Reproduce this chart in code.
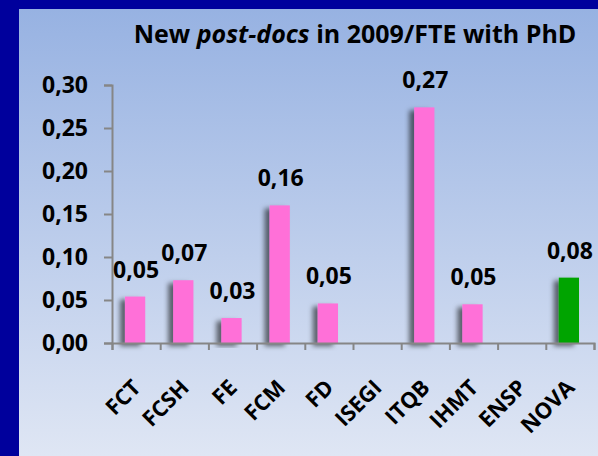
<!DOCTYPE html>
<html>
<head>
<meta charset="utf-8">
<script src="https://cdn.jsdelivr.net/npm/d3@7"></script>
<style>
  body { margin: 0; }
  svg { display: block; font-family: "Open Sans", sans-serif; font-weight: bold; }
</style>
</head>
<body>
<div id="chart"></div>
<script>
// Data
const units = ["FCT", "FCSH", "FE", "FCM", "FD", "ISEGI", "ITQB", "IHMT", "ENSP", "NOVA"];
const postdocs = [0.054, 0.073, 0.029, 0.160, 0.046, 0, 0.274, 0.045, 0, 0.076];
const valueLabels = ["0,05", "0,07", "0,03", "0,16", "0,05", "", "0,27", "0,05", "", "0,08"];
const yTicks = [0, 0.05, 0.10, 0.15, 0.20, 0.25, 0.30];

const data = units.map((u, i) => ({ unit: u, value: postdocs[i], label: valueLabels[i] }));

const width = 598,
  height = 456;
const margin = { top: 85, right: 4, bottom: 113, left: 112 };

const svg = d3
  .select("#chart")
  .append("svg")
  .attr("width", width)
  .attr("height", height);

/* background: dark blue frame + gradient panel */
const defs = svg.append("defs");
const grad = defs
  .append("linearGradient")
  .attr("id", "bg")
  .attr("x1", 0).attr("y1", 0).attr("x2", 0).attr("y2", 1);
grad.append("stop").attr("offset", "0%").attr("stop-color", "#97b2e2");
grad.append("stop").attr("offset", "100%").attr("stop-color", "#dfe6f4");

const shadow = defs.append("filter").attr("id", "shadow")
  .attr("x", "-50%").attr("y", "-20%").attr("width", "200%").attr("height", "140%");
shadow.append("feDropShadow")
  .attr("dx", -5).attr("dy", 3).attr("stdDeviation", 2.5)
  .attr("flood-color", "#000").attr("flood-opacity", 0.55);

svg.append("rect").attr("width", width).attr("height", height).attr("fill", "#00009c");
svg.append("rect")
  .attr("x", 19).attr("y", 9)
  .attr("width", width - 19).attr("height", height - 9)
  .attr("fill", "url(#bg)");

/* scales */
const x = d3
  .scaleBand()
  .domain(units)
  .range([margin.left, width - margin.right])
  .paddingInner(0.58)
  .paddingOuter(0.29);

const xEdges = d3
  .scaleLinear()
  .domain([0, units.length])
  .range([margin.left, width - margin.right]);

const y = d3
  .scaleLinear()
  .domain([0, 0.30])
  .range([height - margin.bottom, margin.top]);

const color = (d) => (d.unit === "NOVA" ? "#00a400" : "#ff6fd8");

/* bars */
svg
  .append("g")
  .selectAll("rect")
  .data(data.filter((d) => d.value > 0))
  .join("rect")
  .attr("x", (d) => x(d.unit) - 1)
  .attr("y", (d) => y(d.value))
  .attr("width", x.bandwidth())
  .attr("height", (d) => y(0) - y(d.value))
  .attr("fill", color)
  .attr("filter", "url(#shadow)");

/* axes */
const yAxis = d3
  .axisLeft(y)
  .tickValues(yTicks)
  .tickSize(8)
  .tickPadding(16)
  .tickFormat((d) => d3.format(".2f")(d).replace(".", ","));

const yG = svg.append("g").attr("transform", `translate(${margin.left},0)`).call(yAxis);

const xAxis = d3
  .axisBottom(xEdges)
  .tickValues(d3.range(units.length + 1))
  .tickSize(7)
  .tickFormat("");

const xG = svg
  .append("g")
  .attr("transform", `translate(0,${height - margin.bottom})`)
  .call(xAxis);

[yG, xG].forEach((g) => {
  g.select(".domain").attr("stroke", "#868686").attr("stroke-width", 2);
  g.selectAll(".tick line").attr("stroke", "#868686").attr("stroke-width", 2);
});
yG.selectAll("text")
  .attr("fill", "#000")
  .style("font-family", "'Open Sans', sans-serif")
  .style("font-size", "23px")
  .style("font-weight", "bold");

/* category labels, rotated */
svg
  .append("g")
  .selectAll("text")
  .data(units)
  .join("text")
  .attr("transform", (d) => `translate(${x(d) + x.bandwidth() / 2 + 6},${height - margin.bottom + 46}) rotate(-45)`)
  .attr("text-anchor", "end")
  .style("font-size", "22px")
  .text((d) => d);

/* value labels */
svg
  .append("g")
  .selectAll("text")
  .data(data.filter((d) => d.label))
  .join("text")
  .attr("x", (d) => x(d.unit) + x.bandwidth() / 2)
  .attr("y", (d) => y(d.value) - 19)
  .attr("text-anchor", "middle")
  .style("font-size", "23px")
  .text((d) => d.label);

/* title */
const title = svg
  .append("text")
  .attr("x", 355)
  .attr("y", 43)
  .attr("text-anchor", "middle")
  .style("font-size", "25px");
title.append("tspan").text("New ");
title.append("tspan").style("font-style", "italic").text("post-docs");
title.append("tspan").text(" in 2009/FTE with PhD");
</script>
</body>
</html>
